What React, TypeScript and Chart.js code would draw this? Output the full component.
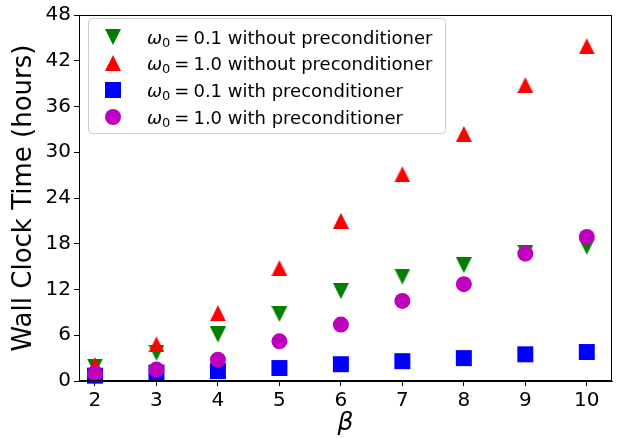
import React, { useEffect, useRef } from 'react';
import { Chart, registerables } from 'chart.js';

Chart.register(...registerables);

// β values on the horizontal axis
const betaValues = [2, 3, 4, 5, 6, 7, 8, 9, 10];

// Wall clock time in hours for each configuration
const w01NoPrecond = [1.9, 3.7, 6.1, 8.8, 11.8, 13.7, 15.2, 16.8, 17.6];
const w10NoPrecond = [2.1, 4.8, 8.9, 14.8, 21.0, 27.1, 32.4, 38.8, 43.9];
const w01Precond = [0.7, 1.1, 1.3, 1.7, 2.2, 2.6, 3.0, 3.5, 3.8];
const w10Precond = [1.0, 1.5, 2.8, 5.2, 7.4, 10.5, 12.7, 16.7, 18.9];

const xTicks = [2, 3, 4, 5, 6, 7, 8, 9, 10];
const yTicks = [0, 6, 12, 18, 24, 30, 36, 42, 48];

const legendValues = ['0.1', '1.0', '0.1', '1.0'];
const legendSuffixes = ['without preconditioner', 'without preconditioner', 'with preconditioner', 'with preconditioner'];

const GREEN = '#008000';
const RED = '#ff0000';
const BLUE = '#0000ff';
const MAGENTA = '#bf00bf';
const FONT = '"DejaVu Sans", sans-serif';

function triangleMarker(color: string, down: boolean, size = 16): HTMLCanvasElement {
  const c = document.createElement('canvas');
  c.width = size;
  c.height = size;
  const g = c.getContext('2d')!;
  g.fillStyle = color;
  g.beginPath();
  if (down) {
    g.moveTo(0, 0);
    g.lineTo(size, 0);
    g.lineTo(size / 2, size);
  } else {
    g.moveTo(size / 2, 0);
    g.lineTo(size, size);
    g.lineTo(0, size);
  }
  g.closePath();
  g.fill();
  return c;
}

export default function App() {
  const canvasRef = useRef<HTMLCanvasElement | null>(null);

  useEffect(() => {
    const prevMargin = document.body.style.margin;
    document.body.style.margin = '0';
    const canvas = canvasRef.current;
    if (!canvas) return;

    const downGreen = triangleMarker(GREEN, true);
    const upRed = triangleMarker(RED, false);

    const toPoints = (ys: number[]) => betaValues.map((x, i) => ({ x, y: ys[i] }));

    // Frame around the plot area plus a boxed legend in the upper left
    const framePlugin = {
      id: 'frameAndLegend',
      afterDraw(chart: Chart) {
        const { ctx, chartArea } = chart;
        ctx.save();
        ctx.strokeStyle = '#000';
        ctx.lineWidth = 1;
        ctx.strokeRect(chartArea.left + 0.5, chartArea.top + 0.5, chartArea.right - chartArea.left - 1, chartArea.bottom - chartArea.top - 1);

        // legend box
        const bx = 88.5, by = 18.5, bw = 357, bh = 115, r = 4;
        ctx.beginPath();
        ctx.moveTo(bx + r, by);
        ctx.lineTo(bx + bw - r, by);
        ctx.quadraticCurveTo(bx + bw, by, bx + bw, by + r);
        ctx.lineTo(bx + bw, by + bh - r);
        ctx.quadraticCurveTo(bx + bw, by + bh, bx + bw - r, by + bh);
        ctx.lineTo(bx + r, by + bh);
        ctx.quadraticCurveTo(bx, by + bh, bx, by + bh - r);
        ctx.lineTo(bx, by + r);
        ctx.quadraticCurveTo(bx, by, bx + r, by);
        ctx.closePath();
        ctx.fillStyle = 'rgba(255,255,255,0.8)';
        ctx.fill();
        ctx.strokeStyle = '#cccccc';
        ctx.stroke();

        const rows = [37, 63, 90, 117];
        const mx = 113;
        rows.forEach((ry, i) => {
          if (i === 0) ctx.drawImage(downGreen, mx - 8, ry - 8);
          else if (i === 1) ctx.drawImage(upRed, mx - 8, ry - 8);
          else if (i === 2) {
            ctx.fillStyle = BLUE;
            ctx.fillRect(mx - 8, ry - 8, 16, 16);
          } else {
            ctx.fillStyle = MAGENTA;
            ctx.beginPath();
            ctx.arc(mx, ry, 8, 0, Math.PI * 2);
            ctx.fill();
          }
          ctx.fillStyle = '#000';
          ctx.textBaseline = 'alphabetic';
          ctx.textAlign = 'left';
          const base = ry + 6.5;
          let tx = 147;
          ctx.font = `italic 18px ${FONT}`;
          ctx.fillText('ω', tx, base);
          tx += ctx.measureText('ω').width;
          ctx.font = `13px ${FONT}`;
          ctx.fillText('0', tx, base + 3);
          tx += ctx.measureText('0').width + 4;
          ctx.font = `18px ${FONT}`;
          ctx.fillText('=', tx, base);
          tx += ctx.measureText('=').width + 4;
          ctx.fillText(`${legendValues[i]} ${legendSuffixes[i]}`, tx, base);
        });
        ctx.restore();
      },
    };

    const chart = new Chart(canvas, {
      type: 'scatter',
      data: {
        datasets: [
          {
            label: 'ω0 = 0.1 without preconditioner',
            data: toPoints(w01NoPrecond),
            pointStyle: downGreen,
            backgroundColor: GREEN,
            borderColor: GREEN,
            order: 4,
          },
          {
            label: 'ω0 = 1.0 without preconditioner',
            data: toPoints(w10NoPrecond),
            pointStyle: upRed,
            backgroundColor: RED,
            borderColor: RED,
            order: 3,
          },
          {
            label: 'ω0 = 0.1 with preconditioner',
            data: toPoints(w01Precond),
            pointStyle: 'rect',
            pointRadius: 11.3,
            borderWidth: 0,
            backgroundColor: BLUE,
            borderColor: BLUE,
            order: 2,
          },
          {
            label: 'ω0 = 1.0 with preconditioner',
            data: toPoints(w10Precond),
            pointStyle: 'circle',
            pointRadius: 8,
            borderWidth: 0,
            backgroundColor: MAGENTA,
            borderColor: MAGENTA,
            order: 1,
          },
        ],
      },
      options: {
        animation: false,
        responsive: false,
        clip: false as any,
        layout: { padding: { left: 0, top: 9, right: 18, bottom: 0 } },
        plugins: {
          legend: { display: false },
          tooltip: { enabled: false },
        },
        scales: {
          x: {
            type: 'linear',
            min: 1.74,
            max: 10.41,
            afterBuildTicks: (scale: any) => {
              scale.ticks = xTicks.map((v) => ({ value: v }));
            },
            afterFit: (scale: any) => {
              scale.height = 57;
            },
            grid: { drawOnChartArea: false, drawTicks: true, tickLength: 5, color: '#000' },
            border: { display: true, color: '#000' },
            ticks: { color: '#000', font: { family: FONT, size: 20 }, padding: 3, maxRotation: 0 },
            title: {
              display: true,
              text: 'β',
              color: '#000',
              font: { family: FONT, size: 25, style: 'italic' },
              padding: { top: 0, bottom: 0 },
            },
          },
          y: {
            type: 'linear',
            min: 0,
            max: 48,
            afterBuildTicks: (scale: any) => {
              scale.ticks = yTicks.map((v) => ({ value: v }));
            },
            afterFit: (scale: any) => {
              scale.width = 79;
            },
            grid: { drawOnChartArea: false, drawTicks: true, tickLength: 5, color: '#000' },
            border: { display: true, color: '#000' },
            ticks: { color: '#000', font: { family: FONT, size: 20 }, padding: 3 },
            title: {
              display: true,
              text: 'Wall Clock Time (hours)',
              color: '#000',
              font: { family: FONT, size: 26 },
              padding: { top: 9, bottom: 0 },
            },
          },
        },
      },
      plugins: [framePlugin],
    });

    return () => {
      chart.destroy();
      document.body.style.margin = prevMargin;
    };
  }, []);

  return (
    <div style={{ width: 630, height: 438, background: '#fff' }}>
      <canvas ref={canvasRef} width={630} height={438} style={{ display: 'block' }} />
    </div>
  );
}
